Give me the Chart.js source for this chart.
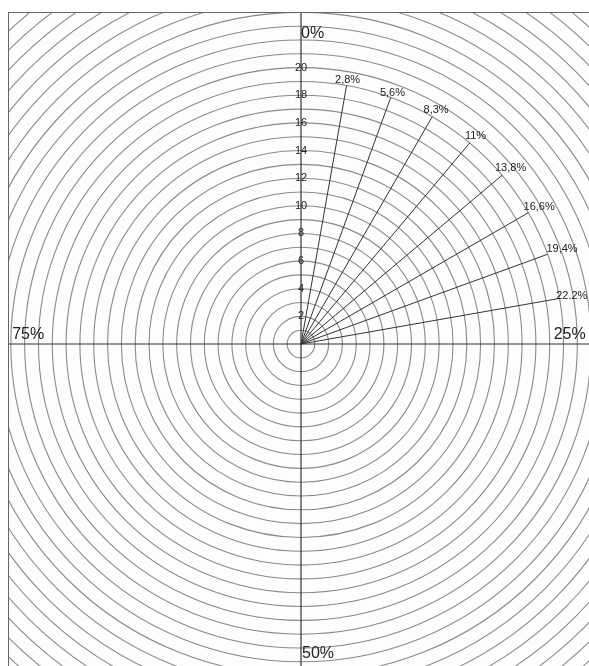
<!DOCTYPE html>
<html lang="en">
<head>
  <meta charset="UTF-8" />
  <title>Polar percentage grid</title>
  <style>
    html, body {
      margin: 0;
      padding: 0;
      width: 589px;
      height: 666px;
      overflow: hidden;
      background: #fff;
    }

    #frame {
      position: absolute;
      left: 8px;
      top: 12px;
      width: 640px;
      height: 700px;
      overflow: hidden;
      border-left: 1.5px solid #666;
      border-top: 1.5px solid #666;
      background: #fdfdfd;
    }

    #wrap {
      position: absolute;
      /* puts the scale centre at page (301, 344) */
      left: -170px;
      top: -134px;
      width: 924px;
      height: 930px;
    }
  </style>
</head>
<body>

  <div id="frame">
    <div id="wrap">
      <canvas id="grid"></canvas>
    </div>
  </div>

  <script src="https://cdn.jsdelivr.net/npm/chart.js"></script>
  <script>
    // 36 sectors of 10 degrees, index 0 at the top, going clockwise
    const sectorCount = 36;
    const ringMax = 33;

    // numbers written up the vertical axis
    const tickLabels = [2, 4, 6, 8, 10, 12, 14, 16, 18, 20];

    // the short rays and their captions
    const rayLabels = ['2,8%', '5,6%', '8,3%', '11%', '13,8%', '16,6%', '19,4%', '22.2%'];
    const raySector = [1, 2, 3, 4, 5, 6, 7, 8];
    const rayLength = [19, 19, 19, 19, 19, 19, 19, 19];

    // quarter captions on the axis cross
    const axisLabels = ['0%', '25%', '50%', '75%'];
    const axisSector = [0, 9, 18, 27];

    const sectors = Array.from({ length: sectorCount }, (_, i) => String(i));

    const rayDatasets = rayLabels.map((label, i) => {
      const data = new Array(sectorCount).fill(null);
      data[raySector[i] - 1] = 0;
      data[raySector[i]] = rayLength[i];
      return {
        label: label,
        data: data,
        borderColor: '#333',
        borderWidth: 1,
        pointRadius: 0,
        fill: false,
        tension: 0,
        spanGaps: false
      };
    });

    const font = "'Liberation Sans', Arial, sans-serif";

    // how far past the ray end each caption sits (ring units)
    const rayCaptionGap = [0.4, 0.35, 0.55, 0.65, 0.8, 0.9, 1.1, 0.9];

    // caption placement: [radius in ring units, align, baseline, dx, dy]
    const axisPlace = [
      [22.45, 'left', 'middle', 0, 0],
      [20.6, 'right', 'bottom', 0, -1],
      [22.4, 'left', 'middle', 1, 0],
      [20.9, 'left', 'bottom', 0, -1]
    ];

    const captions = {
      id: 'captions',
      afterDraw(chart) {
        const r = chart.scales.r;
        const ctx = chart.ctx;
        ctx.save();
        ctx.fillStyle = '#222';

        ctx.font = '11px ' + font;
        ctx.textAlign = 'center';
        ctx.textBaseline = 'middle';
        rayLabels.forEach((label, i) => {
          const p = r.getPointPositionForValue(raySector[i], rayLength[i] + rayCaptionGap[i]);
          ctx.fillText(label, p.x, p.y);
        });

        ctx.font = '16px ' + font;
        axisLabels.forEach((label, i) => {
          const [v, align, base, dx, dy] = axisPlace[i];
          const p = r.getPointPositionForValue(axisSector[i], v);
          ctx.textAlign = align;
          ctx.textBaseline = base;
          ctx.fillText(label, p.x + dx, p.y + dy);
        });
        ctx.restore();
      }
    };

    new Chart(document.getElementById('grid'), {
      type: 'radar',
      data: {
        labels: sectors,
        datasets: rayDatasets
      },
      options: {
        responsive: true,
        maintainAspectRatio: false,
        animation: false,
        layout: { padding: 0 },
        plugins: {
          legend: { display: false },
          tooltip: { enabled: false }
        },
        scales: {
          r: {
            min: 0,
            max: ringMax,
            startAngle: 0,
            ticks: {
              stepSize: 1,
              maxTicksLimit: 100,
              showLabelBackdrop: false,
              backdropPadding: 0,
              color: '#222',
              font: { size: 11, family: font },
              callback: v => tickLabels.includes(v) ? String(v) : ''
            },
            grid: {
              circular: true,
              color: '#8a8a8a',
              lineWidth: 1.1
            },
            angleLines: {
              display: true,
              color: c => axisSector.includes(c.index) ? '#333' : 'rgba(0,0,0,0)',
              lineWidth: 1.2
            },
            pointLabels: { display: false }
          }
        }
      },
      plugins: [captions]
    });
  </script>

</body>
</html>
